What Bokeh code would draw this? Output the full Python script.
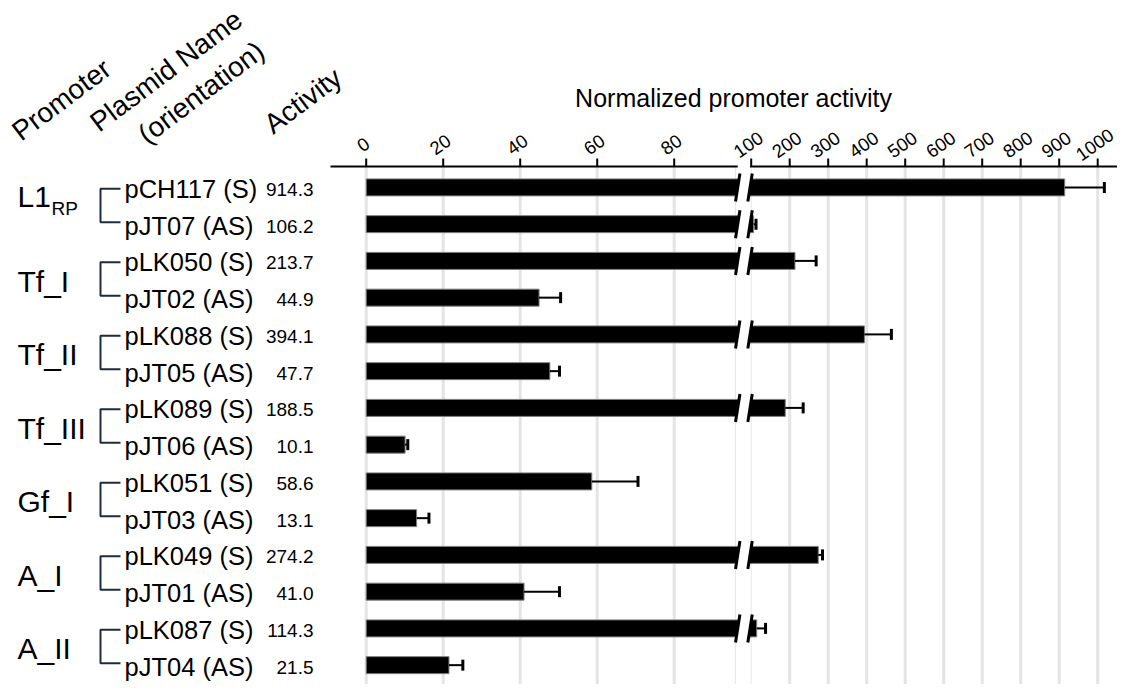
import math
from bokeh.plotting import figure
from bokeh.models import Range1d
from bokeh.core.properties import value
from bokeh.embed import file_html
from bokeh.resources import INLINE

# ---------------- data ----------------
promoters = ["L1", "Tf_I", "Tf_II", "Tf_III", "Gf_I", "A_I", "A_II"]
promoter_subscripts = ["RP", "", "", "", "", "", ""]
plasmids = ["pCH117 (S)", "pJT07 (AS)", "pLK050 (S)", "pJT02 (AS)",
            "pLK088 (S)", "pJT05 (AS)", "pLK089 (S)", "pJT06 (AS)",
            "pLK051 (S)", "pJT03 (AS)", "pLK049 (S)", "pJT01 (AS)",
            "pLK087 (S)", "pJT04 (AS)"]
activity = [914.3, 106.2, 213.7, 44.9, 394.1, 47.7, 188.5, 10.1,
            58.6, 13.1, 274.2, 41.0, 114.3, 21.5]
activity_err = [103.0, 6.3, 55.0, 5.6, 70.0, 2.5, 46.5, 0.7,
                12.0, 3.2, 11.0, 9.2, 23.0, 3.6]
left_ticks = [0, 20, 40, 60, 80]
right_ticks = [100, 200, 300, 400, 500, 600, 700, 800, 900, 1000]
header_labels = ["Promoter", "Plasmid Name", "(orientation)", "Activity"]
title_text = "Normalized promoter activity"

# ---------------- geometry ----------------
FONT = "Liberation Sans"
W, H = 1117, 684
PX_T = 3.85          # pixels per unit on the left segment
T0 = 365.7           # canvas x of value 0
ROW_PX = 36.75
ROW0 = 186.9
BREAK_AT = 100.0
BREAK_SCALE = 10.0
BREAK_L, BREAK_R = 96.5, 99.7


def tpos(v):
    return v if v <= BREAK_AT else BREAK_AT + (v - BREAK_AT) / BREAK_SCALE


def fx(px):
    return (px - T0) / PX_T


def fy(py):
    return (py - ROW0) / ROW_PX


def dxp(px):
    return px / PX_T


def dyp(px):
    return px / ROW_PX


p = figure(width=W, height=H,
           x_range=Range1d(fx(0), fx(W)),
           y_range=Range1d(fy(H), fy(0)),
           x_axis_location=None, y_axis_location=None,
           min_border=0, toolbar_location=None, output_backend="svg")
p.outline_line_color = None
p.grid.visible = False
p.background_fill_color = "white"

n = len(plasmids)
rows = list(range(n))
axis_y = fy(166)
tick_top = fy(158)
bottom = fy(H)

# ---------------- gridlines ----------------
grid_vals = left_ticks + right_ticks[1:]
grid_t = [tpos(v) for v in grid_vals]
p.segment(x0=grid_t, y0=[axis_y] * len(grid_t), x1=grid_t, y1=[bottom] * len(grid_t),
          line_color="#e4e4e4", line_width=3)
thin_t = [BREAK_L - 0.6, tpos(right_ticks[0])]
p.segment(x0=thin_t, y0=[axis_y] * 2, x1=thin_t, y1=[bottom] * 2,
          line_color="#e6e6e6", line_width=1)

# ---------------- bars ----------------
small = [i for i, v in enumerate(activity) if v <= BREAK_AT]
big = [i for i, v in enumerate(activity) if v > BREAK_AT]
BAR_H = dyp(17)
s = dxp(2.2)
hh = dyp(14)

p.hbar(y=small, left=0, right=[tpos(activity[i]) for i in small], height=BAR_H,
       fill_color="black", line_color="#808080", line_width=1)
p.hbar(y=big, left=0, right=BREAK_L + s, height=BAR_H,
       fill_color="black", line_color="#808080", line_width=1)
p.hbar(y=big, left=BREAK_R - s, right=[tpos(activity[i]) for i in big], height=BAR_H,
       fill_color="black", line_color="#808080", line_width=1)

# break marks
p.patches(xs=[[BREAK_L - s, BREAK_L + s, BREAK_R + s, BREAK_R - s] for _ in big],
          ys=[[i + hh, i - hh, i - hh, i + hh] for i in big],
          fill_color="white", line_color=None)
for bx in (BREAK_L, BREAK_R):
    p.segment(x0=[bx - s] * len(big), y0=[i + hh for i in big],
              x1=[bx + s] * len(big), y1=[i - hh for i in big],
              line_color="black", line_width=3)

# ---------------- error bars ----------------
ends = [tpos(v + e) for v, e in zip(activity, activity_err)]
starts = [tpos(v) for v in activity]
p.segment(x0=starts, y0=rows, x1=ends, y1=rows, line_color="black", line_width=2)
p.segment(x0=ends, y0=[r - dyp(5.5) for r in rows], x1=ends, y1=[r + dyp(5.5) for r in rows],
          line_color="black", line_width=3)

# ---------------- top axis ----------------
p.segment(x0=[fx(330), BREAK_R], y0=[axis_y] * 2, x1=[BREAK_L, fx(W)], y1=[axis_y] * 2,
          line_color="black", line_width=2)
tick_vals = left_ticks + right_ticks
tick_t = [tpos(v) for v in tick_vals]
p.segment(x0=tick_t, y0=[axis_y] * len(tick_t), x1=tick_t, y1=[tick_top] * len(tick_t),
          line_color="black", line_width=2)
p.text(x=tick_t, y=[fy(144)] * len(tick_t), text=[str(v) for v in tick_vals],
       angle=math.radians(35), text_align="center", text_baseline="middle",
       x_offset=-3, text_font=value(FONT), text_font_size="18.5px", text_color="black")

# title
p.text(x=[fx(733)], y=[fy(97)], text=[title_text], text_align="center",
       text_baseline="middle", text_font=value(FONT), text_font_size="25px",
       text_color="black")

# headers (left-middle anchors)
hdr_x = [fx(15), fx(93), fx(141), fx(267)]
hdr_y = [fy(134), fy(125), fy(137), fy(127)]
p.text(x=hdr_x, y=hdr_y, text=header_labels, angle=math.radians(37),
       text_align="left", text_baseline="middle", text_font=value(FONT),
       text_font_size="28px", text_color="black")

# ---------------- left labels ----------------
mids = [2 * g + 0.5 for g in range(len(promoters))]
p.text(x=[fx(17)] * len(promoters), y=mids, text=promoters,
       y_offset=[-9.3 if sub else 2 for sub in promoter_subscripts],
       text_align="left", text_baseline="middle", text_font=value(FONT),
       text_font_size="30px", text_color="black")
sub_idx = [g for g, sub in enumerate(promoter_subscripts) if sub]
p.text(x=[fx(51)] * len(sub_idx), y=[mids[g] for g in sub_idx],
       text=[promoter_subscripts[g] for g in sub_idx], y_offset=3,
       text_align="left", text_baseline="middle", text_font=value(FONT),
       text_font_size="19px", text_color="black")

# brackets
p.multi_line(xs=[[fx(120), fx(100), fx(100), fx(120)] for _ in promoters],
             ys=[[2 * g + dyp(1.4), 2 * g + dyp(1.4), 2 * g + 1 - dyp(1.9), 2 * g + 1 - dyp(1.9)]
                 for g in range(len(promoters))],
             line_color="#1d2c3c", line_width=2)

p.text(x=[fx(124)] * n, y=rows, text=plasmids, y_offset=1.5,
       text_align="left", text_baseline="middle", text_font=value(FONT),
       text_font_size="25.5px", text_color="black")
p.text(x=[fx(313)] * n, y=rows, text=[f"{v:.1f}" for v in activity], y_offset=2,
       text_align="right", text_baseline="middle", text_font=value(FONT),
       text_font_size="19px", text_color="black")

open("out.html", "w").write(file_html(p, INLINE))
